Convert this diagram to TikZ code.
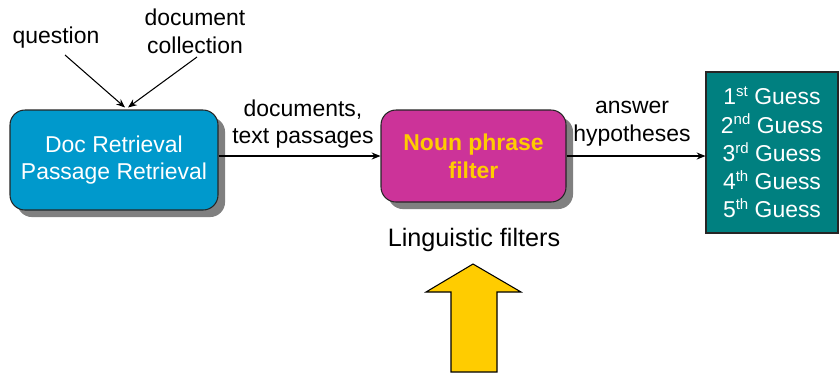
\documentclass[tikz,border=0pt]{standalone}
\usepackage{fontspec}
\setmainfont{Liberation Sans}
\usetikzlibrary{calc,shadows,arrows.meta}
\definecolor{docblue}{RGB}{0,153,204}
\definecolor{nounmag}{RGB}{204,51,153}
\definecolor{guessteal}{RGB}{0,128,128}
\definecolor{hiyellow}{RGB}{255,204,0}
\newcommand{\ordsup}[1]{\raisebox{0.36em}{\fontsize{8.5}{8.5}\selectfont #1}}
\tikzset{
  txt/.style={font=\fontsize{13}{15.8}\selectfont, align=center, inner sep=0pt},
  procbox/.style={draw=black!85, line width=0.6pt, rounded corners=8.5pt, align=center,
    font=\fontsize{13}{15.8}\selectfont,
    drop shadow={shadow xshift=4pt, shadow yshift=-4pt, fill=black!50, opacity=1}},
  conn/.style={-{Stealth[length=5pt,width=4pt]}, line width=0.6pt, black}
}
\begin{document}
\begin{tikzpicture}[x=0.567pt,y=-0.567pt]
\useasboundingbox (0,0) rectangle (840,374);
% boxes
\node[procbox, fill=docblue, text=white, minimum width=208*0.567pt, minimum height=100*0.567pt]
  (blue) at (114,160) {Doc Retrieval\\Passage Retrieval};
\node[procbox, fill=nounmag, text=hiyellow, font=\fontsize{13}{15.8}\selectfont\bfseries,
  minimum width=185*0.567pt, minimum height=92*0.567pt]
  (mag) at (473.5,156) {Noun phrase\\filter};
\node[draw=black!85, line width=0.6pt, fill=guessteal, text=white, align=center,
  font=\fontsize{13}{16}\selectfont, minimum width=132*0.567pt, minimum height=161*0.567pt]
  (green) at (772,152.5) {1\ordsup{st} Guess\\2\ordsup{nd} Guess\\3\ordsup{rd} Guess\\4\ordsup{th} Guess\\5\ordsup{th} Guess};
% labels
\node[txt] (q) at (56,38) {question};
\node[txt] (dc) at (195,31) {document\\collection};
\node[txt] (dtp) at (303,124) {documents,\\text passages};
\node[txt] (ah) at (632,124) {answer\\hypotheses};
\node[txt, font=\fontsize{14.3}{16}\selectfont] (lf) at (474,240) {Linguistic filters};
% connectors
\coordinate (qs) at (65,55);
\coordinate (ds) at (197,57);
\draw[conn] (qs) -- ($(blue.north)+(11,-2)$);
\draw[conn] (ds) -- ($(blue.north)+(14,-2)$);
\draw[conn] (blue.east |- mag.west) -- (mag.west);
\draw[conn] (mag.east) -- (mag.east -| green.west);
% yellow arrow
\draw[fill=hiyellow, draw=black, line width=0.6pt]
  (473,264) -- (521,292) -- (497,292) -- (497,372) -- (451,372) -- (451,292) -- (426,292) -- cycle;
\end{tikzpicture}
\end{document}
